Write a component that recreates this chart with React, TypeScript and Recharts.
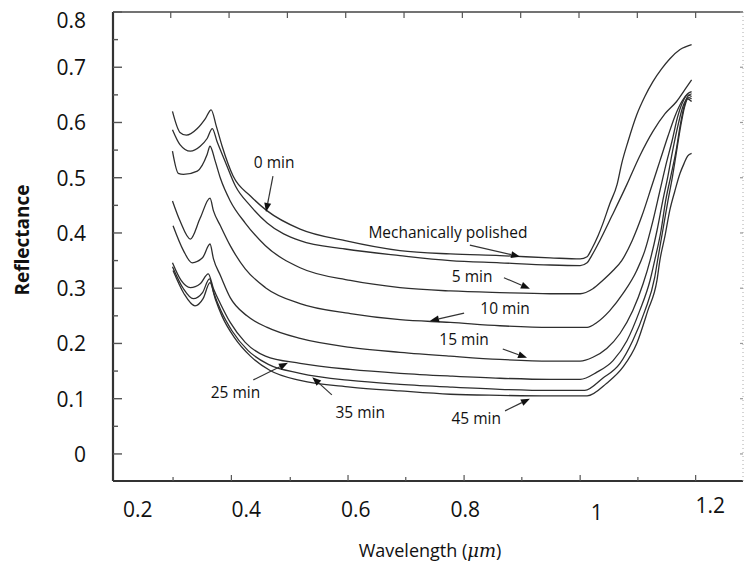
import React from "react"
import { LineChart, Line, XAxis, YAxis, ReferenceLine, ReferenceDot, Label } from "recharts"

const FONT = "'Open Sans', sans-serif"
const INK = "#2e2e2e"

// [wavelength (µm), reflectance]
const MECH_POLISHED: [number, number][] = [
  [0.267, 0.62], [0.28, 0.582], [0.291, 0.577], [0.31, 0.589], [0.324, 0.607], [0.334, 0.623],
  [0.343, 0.593], [0.353, 0.557], [0.372, 0.503], [0.402, 0.467], [0.431, 0.44], [0.488, 0.407],
  [0.566, 0.386], [0.661, 0.368], [0.748, 0.362], [0.834, 0.359], [0.921, 0.355], [0.973, 0.353],
  [0.985, 0.357], [0.993, 0.371], [1.004, 0.395], [1.012, 0.416], [1.024, 0.452], [1.037, 0.488],
  [1.045, 0.526], [1.056, 0.566], [1.071, 0.614], [1.085, 0.647], [1.099, 0.674], [1.114, 0.697],
  [1.128, 0.715], [1.146, 0.732], [1.166, 0.741],
]

const MIN_0: [number, number][] = [
  [0.267, 0.587], [0.28, 0.56], [0.298, 0.548], [0.315, 0.557], [0.327, 0.571], [0.336, 0.589],
  [0.344, 0.566], [0.358, 0.53], [0.376, 0.485], [0.402, 0.449], [0.431, 0.418], [0.488, 0.386],
  [0.566, 0.371], [0.661, 0.359], [0.748, 0.35], [0.834, 0.346], [0.921, 0.342], [0.973, 0.341],
  [0.985, 0.346], [0.993, 0.359], [1.007, 0.386], [1.028, 0.431], [1.054, 0.488], [1.076, 0.539],
  [1.099, 0.584], [1.12, 0.616], [1.14, 0.638], [1.154, 0.659], [1.166, 0.677],
]

const MIN_5: [number, number][] = [
  [0.267, 0.548], [0.277, 0.508], [0.286, 0.506], [0.31, 0.512], [0.327, 0.542], [0.332, 0.557],
  [0.341, 0.53], [0.35, 0.499], [0.367, 0.458], [0.393, 0.418], [0.428, 0.377], [0.488, 0.337],
  [0.575, 0.314], [0.661, 0.301], [0.748, 0.295], [0.834, 0.292], [0.921, 0.29], [0.973, 0.29],
  [0.995, 0.299], [1.012, 0.314], [1.03, 0.332], [1.045, 0.35], [1.063, 0.386], [1.08, 0.431],
  [1.097, 0.485], [1.111, 0.53], [1.125, 0.575], [1.137, 0.611], [1.149, 0.638], [1.159, 0.652],
  [1.166, 0.656],
]

const MIN_10: [number, number][] = [
  [0.267, 0.458], [0.28, 0.422], [0.298, 0.389], [0.315, 0.427], [0.332, 0.463], [0.338, 0.44],
  [0.35, 0.413], [0.367, 0.377], [0.393, 0.335], [0.428, 0.301], [0.488, 0.272], [0.575, 0.254],
  [0.661, 0.243], [0.748, 0.238], [0.834, 0.232], [0.921, 0.229], [0.985, 0.229], [1.002, 0.238],
  [1.024, 0.259], [1.047, 0.29], [1.071, 0.332], [1.085, 0.368], [1.099, 0.422], [1.111, 0.476],
  [1.121, 0.521], [1.132, 0.566], [1.142, 0.611], [1.151, 0.638], [1.159, 0.65], [1.166, 0.647],
]

const MIN_15: [number, number][] = [
  [0.268, 0.413], [0.286, 0.368], [0.301, 0.346], [0.319, 0.355], [0.332, 0.38], [0.338, 0.353],
  [0.35, 0.323], [0.367, 0.283], [0.396, 0.25], [0.431, 0.229], [0.488, 0.209], [0.575, 0.193],
  [0.661, 0.184], [0.748, 0.177], [0.834, 0.171], [0.921, 0.168], [0.973, 0.168], [0.995, 0.175],
  [1.019, 0.191], [1.042, 0.218], [1.064, 0.259], [1.082, 0.308], [1.094, 0.35], [1.106, 0.404],
  [1.116, 0.458], [1.125, 0.503], [1.133, 0.548], [1.142, 0.593], [1.151, 0.629], [1.159, 0.643],
  [1.166, 0.638],
]

const MIN_25: [number, number][] = [
  [0.267, 0.346], [0.282, 0.314], [0.298, 0.301], [0.315, 0.308], [0.329, 0.326], [0.338, 0.299],
  [0.35, 0.272], [0.367, 0.238], [0.393, 0.202], [0.428, 0.177], [0.488, 0.164], [0.575, 0.153],
  [0.661, 0.146], [0.748, 0.141], [0.834, 0.137], [0.921, 0.135], [0.973, 0.135], [1.002, 0.148],
  [1.03, 0.169], [1.054, 0.205], [1.076, 0.259], [1.094, 0.314], [1.102, 0.35], [1.113, 0.404],
  [1.121, 0.458], [1.13, 0.503], [1.139, 0.548], [1.146, 0.593], [1.153, 0.629], [1.159, 0.647],
  [1.166, 0.652],
]

const MIN_35: [number, number][] = [
  [0.267, 0.339], [0.286, 0.299], [0.303, 0.281], [0.319, 0.292], [0.331, 0.317], [0.339, 0.29],
  [0.351, 0.259], [0.37, 0.223], [0.398, 0.187], [0.433, 0.162], [0.488, 0.146], [0.575, 0.133],
  [0.661, 0.126], [0.748, 0.121], [0.834, 0.117], [0.921, 0.115], [0.981, 0.115], [1.012, 0.137],
  [1.042, 0.164], [1.064, 0.205], [1.085, 0.259], [1.102, 0.319], [1.107, 0.35], [1.116, 0.404],
  [1.125, 0.458], [1.133, 0.503], [1.14, 0.548], [1.147, 0.593], [1.154, 0.629], [1.161, 0.645],
  [1.166, 0.643],
]

const MIN_45: [number, number][] = [
  [0.268, 0.332], [0.287, 0.29], [0.306, 0.268], [0.32, 0.281], [0.332, 0.31], [0.341, 0.281],
  [0.353, 0.249], [0.374, 0.211], [0.402, 0.177], [0.436, 0.151], [0.488, 0.133], [0.575, 0.121],
  [0.661, 0.114], [0.748, 0.108], [0.834, 0.106], [0.921, 0.105], [0.985, 0.105], [1.019, 0.128],
  [1.047, 0.157], [1.071, 0.2], [1.09, 0.259], [1.106, 0.314], [1.111, 0.35], [1.12, 0.395],
  [1.128, 0.44], [1.137, 0.476], [1.146, 0.508], [1.153, 0.526], [1.159, 0.539], [1.166, 0.544],
]

const SERIES = [
  { name: "Mechanically polished", points: MECH_POLISHED },
  { name: "0 min", points: MIN_0 },
  { name: "5 min", points: MIN_5 },
  { name: "10 min", points: MIN_10 },
  { name: "15 min", points: MIN_15 },
  { name: "25 min", points: MIN_25 },
  { name: "35 min", points: MIN_35 },
  { name: "45 min", points: MIN_45 },
]

// axis ticks
const X_LABELS = [0.2, 0.4, 0.6, 0.8, 1, 1.2]
const X_MARKS = [0.268, 0.369, 0.471, 0.571, 0.671, 0.772, 0.872, 0.973, 1.073, 1.173]
const TOP_MARKS = [0.264, 0.365, 0.466, 0.567, 0.668, 0.769, 0.87, 0.971, 1.072, 1.173]
const Y_TICKS = [0, 0.05, 0.1, 0.15, 0.2, 0.25, 0.3, 0.35, 0.4, 0.45, 0.5, 0.55, 0.6, 0.65, 0.7, 0.75, 0.8]
const Y_RIGHT = [0, 0.1, 0.2, 0.3, 0.4, 0.5, 0.6, 0.7, 0.8]

const X_DOMAIN: [number, number] = [0.164, 1.255]
const Y_DOMAIN: [number, number] = [-0.049, 0.8]

// the printed x labels sit a little off their true positions in the source figure
const X_LABEL_NUDGE: Record<string, [number, number]> = {
  "0.2": [4, 0],
  "0.4": [-3, 0],
  "0.6": [-9, 0],
  "0.8": [-15, 0],
  "1": [1, 3],
  "1.2": [-1, -4],
}

// callouts: label centre, arrow tail, arrow tip
const NOTES = [
  { text: "0 min", at: [0.443, 0.528], from: [0.441, 0.503], to: [0.429, 0.438] },
  { text: "Mechanically polished", at: [0.744, 0.402], from: [0.782, 0.378], to: [0.869, 0.357] },
  { text: "5 min", at: [0.786, 0.322], from: [0.841, 0.319], to: [0.886, 0.299] },
  { text: "10 min", at: [0.843, 0.264], from: [0.772, 0.255], to: [0.713, 0.241] },
  { text: "15 min", at: [0.772, 0.208], from: [0.839, 0.19], to: [0.881, 0.174] },
  { text: "25 min", at: [0.376, 0.112], from: [0.407, 0.134], to: [0.467, 0.165] },
  { text: "35 min", at: [0.592, 0.076], from: [0.543, 0.107], to: [0.509, 0.139] },
  { text: "45 min", at: [0.793, 0.065], from: [0.843, 0.078], to: [0.886, 0.1] },
]

function Arrow(props: any) {
  const { x1, y1, x2, y2 } = props
  const ang = Math.atan2(y2 - y1, x2 - x1)
  const len = 9
  const half = 3.5
  const bx = x2 - len * Math.cos(ang)
  const by = y2 - len * Math.sin(ang)
  const px = -Math.sin(ang) * half
  const py = Math.cos(ang) * half
  return (
    <g>
      <line x1={x1} y1={y1} x2={bx} y2={by} stroke="#333" strokeWidth={1.2} />
      <polygon points={`${x2},${y2} ${bx + px},${by + py} ${bx - px},${by - py}`} fill="#111" />
    </g>
  )
}

function BottomTick({ x, y, payload }: any) {
  const v = payload.value
  if (X_LABELS.includes(v)) {
    const [dx, dy] = X_LABEL_NUDGE[String(v)] || [0, 0]
    return (
      <text x={x + dx} y={y + 28 + dy} textAnchor="middle" dominantBaseline="central"
        fontFamily={FONT} fontSize={21} fill="#111">
        {String(v)}
      </text>
    )
  }
  const tall = X_MARKS.indexOf(v) % 2 === 1
  return <line x1={x} x2={x} y1={y} y2={y - (tall ? 6 : 4)} stroke="#555" strokeWidth={1.2} />
}

function TopTick({ x, y }: any) {
  return <line x1={x} x2={x} y1={y} y2={y + 6} stroke="#555" strokeWidth={1.2} />
}

function LeftTick({ x, y, payload }: any) {
  const v = payload.value
  const major = Math.round(v * 100) % 10 === 0
  return (
    <g>
      <line x1={x} x2={x + (major ? 9 : 5)} y1={y} y2={y} stroke="#555" strokeWidth={1.4} />
      {major && (
        <text x={x - 27} y={y + (v === 0.8 ? 8 : 0)} textAnchor="end" dominantBaseline="central"
          fontFamily={FONT} fontSize={21} fill="#111">
          {v === 0 ? "0" : String(v)}
        </text>
      )}
    </g>
  )
}

function RightTick({ x, y }: any) {
  return <line x1={x} x2={x - 3} y1={y} y2={y} stroke="#999" strokeWidth={1.2} />
}

export default function App() {
  return (
    <div style={{ position: "absolute", left: 0, top: 0, width: 744, height: 567, background: "#fff" }}>
      <LineChart width={744} height={567} margin={{ top: 0, right: 0, bottom: 0, left: 0 }}>
        <XAxis
          xAxisId={0}
          type="number"
          dataKey="w"
          domain={X_DOMAIN}
          allowDataOverflow
          ticks={[...X_LABELS, ...X_MARKS]}
          interval={0}
          height={86}
          tickSize={0}
          tickMargin={0}
          tickLine={false}
          tick={<BottomTick />}
          axisLine={{ stroke: "#333", strokeWidth: 2.2 }}
        >
          <Label
            content={({ viewBox }: any) => (
              <text x={viewBox.x + viewBox.width / 2 + 2} y={viewBox.y + 69} textAnchor="middle"
                dominantBaseline="central" fontFamily={FONT} fontSize={18} fill="#111">
                Wavelength (
                <tspan fontFamily="'DejaVu Serif', serif" fontStyle="italic">μm</tspan>)
              </text>
            )}
          />
        </XAxis>
        <XAxis
          xAxisId="top"
          orientation="top"
          type="number"
          dataKey="w"
          domain={X_DOMAIN}
          allowDataOverflow
          ticks={TOP_MARKS}
          interval={0}
          height={12}
          tickSize={0}
          tickMargin={0}
          tickLine={false}
          tick={<TopTick />}
          axisLine={{ stroke: "#444", strokeWidth: 1.5 }}
        />
        <YAxis
          yAxisId={0}
          type="number"
          domain={Y_DOMAIN}
          allowDataOverflow
          ticks={Y_TICKS}
          interval={0}
          width={113}
          tickSize={0}
          tickMargin={0}
          tickLine={false}
          tick={<LeftTick />}
          axisLine={{ stroke: "#333", strokeWidth: 2.2 }}
        >
          <Label
            content={() => (
              <text x={22} y={240} transform="rotate(-90 22 240)" textAnchor="middle"
                dominantBaseline="central" fontFamily={FONT} fontSize={19} fontWeight="bold" fill="#111">
                Reflectance
              </text>
            )}
          />
        </YAxis>
        <YAxis
          yAxisId="right"
          orientation="right"
          type="number"
          domain={Y_DOMAIN}
          allowDataOverflow
          ticks={Y_RIGHT}
          interval={0}
          width={1}
          tickSize={0}
          tickMargin={0}
          tickLine={false}
          tick={<RightTick />}
          axisLine={{ stroke: "#aaa", strokeWidth: 1, strokeDasharray: "1 3" }}
        />

        {SERIES.map((s) => (
          <Line
            key={s.name}
            name={s.name}
            data={s.points.map(([w, r]) => ({ w, r }))}
            dataKey="r"
            type="monotone"
            stroke={INK}
            strokeWidth={1.3}
            dot={false}
            activeDot={false}
            isAnimationActive={false}
          />
        ))}

        {NOTES.map((n) => (
          <ReferenceLine
            key={`arrow-${n.text}`}
            segment={[{ x: n.from[0], y: n.from[1] }, { x: n.to[0], y: n.to[1] }]}
            shape={(p: any) => <Arrow {...p} />}
          />
        ))}
        {NOTES.map((n) => (
          <ReferenceDot
            key={`note-${n.text}`}
            x={n.at[0]}
            y={n.at[1]}
            r={0}
            shape={(p: any) => (
              <text x={p.cx} y={p.cy} textAnchor="middle" dominantBaseline="central"
                fontFamily={FONT} fontSize={15.5} fill="#111">
                {n.text}
              </text>
            )}
          />
        ))}
      </LineChart>
    </div>
  )
}
